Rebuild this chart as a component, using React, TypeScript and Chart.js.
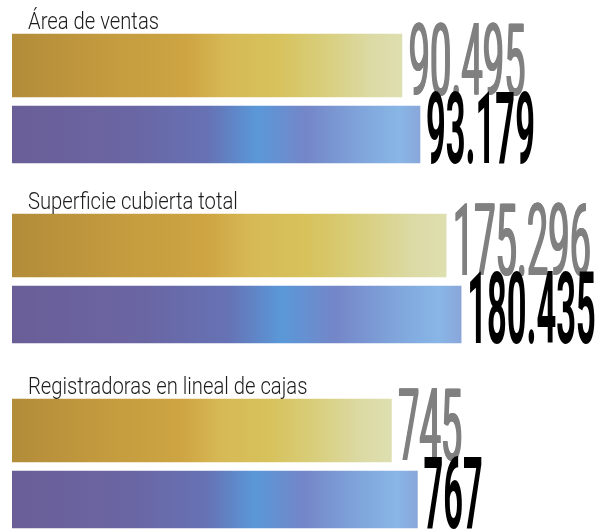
import React, { useEffect, useRef } from 'react';
import { Chart, registerables } from 'chart.js';

Chart.register(...registerables);

// ---- data ----
const groupLabels = ['Área de ventas', 'Superficie cubierta total', 'Registradoras en lineal de cajas'];
const periods = ['Anterior', 'Actual'];
const previousValues = [90495, 175296, 745];
const currentValues = [93179, 180435, 767];
// value range shown by each group's axis
const axisMin = [32400, 26600, 424];
const axisMax = [120000, 228000, 921.5];

const goldStops: [number, string][] = [
  [0, '#b38c3a'], [0.25, '#c49b3e'], [0.45, '#cea542'], [0.55, '#d6b955'],
  [0.68, '#d7c25c'], [0.8, '#d8ce7c'], [0.92, '#dcdaa4'], [1, '#dedfb0'],
];
const blueStops: [number, string][] = [
  [0, '#6a5e97'], [0.3, '#6a66a4'], [0.48, '#6672b4'], [0.6, '#5a98d8'],
  [0.72, '#7486c8'], [0.86, '#80a6dc'], [0.95, '#88b6e6'], [1, '#8aa6da'],
];

const fmt = (v: number) => String(v).replace(/\B(?=(\d{3})+(?!\d))/g, '.');

function gradientFor(stops: [number, string][], value: number) {
  return (c: any) => {
    const chart = c.chart;
    const area = chart.chartArea;
    const xs = chart.scales.x;
    if (!area || !xs) return stops[Math.floor(stops.length / 2)][1];
    const x1 = xs.getPixelForValue(value);
    const g = chart.ctx.createLinearGradient(area.left, 0, Math.max(x1, area.left + 1), 0);
    stops.forEach(([o, col]) => g.addColorStop(o, col));
    return g;
  };
}

const textPlugin = {
  id: 'barText',
  afterDatasetsDraw(chart: any, _args: any, opts: any) {
    const ctx = chart.ctx;
    const area = chart.chartArea;
    const first = chart.getDatasetMeta(0).data[0];
    ctx.save();
    // group label
    if (first) {
      const top = first.y - first.height / 2;
      ctx.save();
      ctx.translate(area.left + 16, top - 5);
      ctx.scale(0.88, 1);
      ctx.font = '300 23px Roboto, "Noto Sans", sans-serif';
      ctx.fillStyle = '#1c1c1c';
      ctx.textBaseline = 'alphabetic';
      ctx.textAlign = 'left';
      ctx.fillText(opts.label, 0, 0);
      ctx.restore();
    }
    // value numbers
    chart.data.datasets.forEach((ds: any, d: number) => {
      const el = chart.getDatasetMeta(d).data[d];
      const value = ds.data[d];
      if (!el || value == null) return;
      const style = opts.numbers[d];
      for (let k = 0; k <= style.thicken; k++) {
        ctx.save();
        ctx.translate(el.x + 6 + k * 0.7, el.y + el.height / 2 - style.lift);
        ctx.scale(style.squeeze, 1);
        ctx.font = `${style.weight} 100px Roboto, "Noto Sans", sans-serif`;
        ctx.fillStyle = style.color;
        ctx.textBaseline = 'alphabetic';
        ctx.textAlign = 'left';
        ctx.fillText(fmt(value), 0, 0);
        ctx.restore();
      }
    });
    ctx.restore();
  },
};

function Group({ index, top }: { index: number; top: number }) {
  const ref = useRef<HTMLCanvasElement>(null);
  useEffect(() => {
    if (!ref.current) return;
    const prev = previousValues[index];
    const cur = currentValues[index];
    const chart = new Chart(ref.current, {
      type: 'bar',
      data: {
        labels: periods,
        datasets: [
          {
            label: periods[0],
            data: [prev, null],
            backgroundColor: gradientFor(goldStops, prev),
            borderWidth: 0,
            barThickness: 63,
          },
          {
            label: periods[1],
            data: [null, cur],
            backgroundColor: gradientFor(blueStops, cur),
            borderWidth: 0,
            barThickness: 57,
          },
        ],
      },
      options: {
        indexAxis: 'y',
        responsive: false,
        animation: false,
        events: [],
        layout: { padding: { top: 31, bottom: 11, left: 12, right: 8 } },
        datasets: { bar: { grouped: false } },
        scales: {
          x: { display: false, min: axisMin[index], max: axisMax[index] },
          y: { display: false, offset: true },
        },
        plugins: {
          legend: { display: false },
          tooltip: { enabled: false },
          barText: {
            label: groupLabels[index],
            numbers: [
              { color: '#808080', weight: 400, lift: 2, squeeze: 0.38, thicken: 2 },
              { color: '#000000', weight: 700, lift: 0, squeeze: 0.345, thicken: 0 },
            ],
          },
        } as any,
      },
      plugins: [textPlugin],
    });
    return () => chart.destroy();
  }, [index]);
  return (
    <canvas
      ref={ref}
      width={608}
      height={180}
      style={{ position: 'absolute', left: 0, top, width: 608, height: 180 }}
    />
  );
}

export default function App() {
  const tops = [0, 180, 365];
  return (
    <div
      style={{
        position: 'absolute',
        left: 0,
        top: 0,
        width: 608,
        height: 532,
        overflow: 'hidden',
        background: '#ffffff',
      }}
    >
      {groupLabels.map((_, i) => (
        <Group key={i} index={i} top={tops[i]} />
      ))}
    </div>
  );
}
